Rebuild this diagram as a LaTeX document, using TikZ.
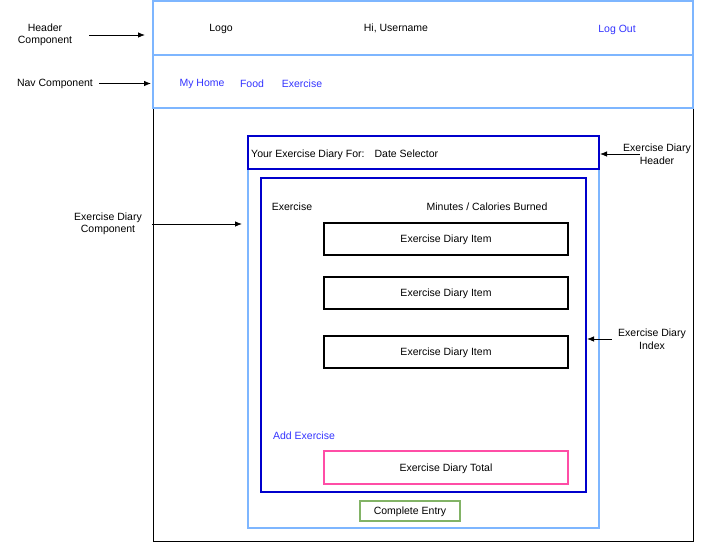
\documentclass[tikz,border=0pt]{standalone}
\usepackage{fontspec}
\setmainfont{Liberation Sans}
\usetikzlibrary{positioning, arrows.meta, calc}

\definecolor{paleblue}{RGB}{126,182,255}
\definecolor{deepblue}{RGB}{0,0,204}
\definecolor{linkblue}{RGB}{51,51,255}
\definecolor{hotpink}{RGB}{255,77,166}
\definecolor{leafgreen}{RGB}{130,179,102}

\begin{document}
\begin{tikzpicture}[
    x=1pt, y=-1pt,
    >={Latex[length=7pt, width=5.5pt]},
    font=\fontsize{10.5}{12.5}\selectfont,
    panel/.style={draw=paleblue, line width=2pt, inner sep=0pt},
    region/.style={draw=deepblue, line width=2pt, inner sep=0pt},
    itembox/.style={
        draw, line width=1.5pt, text depth=0.5pt,
        minimum width=244pt, minimum height=32pt
    },
    totalbox/.style={itembox, draw=hotpink},
    button/.style={draw=leafgreen, line width=1.5pt, minimum width=100pt, minimum height=20pt, inner sep=0pt, text depth=0.5pt},
    txt/.style={inner sep=1pt, yshift=-1.5pt},
    link/.style={txt, text=linkblue},
    note/.style={txt, align=center},
    arr/.style={->, line width=0.8pt}
]
    \useasboundingbox (0,0) rectangle (703,542);

    % page frames
    \node[draw, line width=1pt, inner sep=0pt, minimum width=540pt, minimum height=433pt] (body) at (423,324.5) {};
    \node[panel, minimum width=540pt, minimum height=54pt] (header) at (423,28) {};
    \node[panel, minimum width=540pt, minimum height=53pt] (nav) at (423,81.5) {};

    \node[txt] (logo) at (221,27) {Logo};
    \node[txt] (greet) at (396,27) {Hi, Username};
    \node[link] (logout) at (617,28) {Log Out};

    \node[link] (home) at (202,82) {My Home};
    \node[link] (food) at (252,82) {Food};
    \node[link] (exer) at (302,82) {Exercise};

    % exercise diary
    \node[panel, minimum width=351pt, minimum height=392pt] (diary) at (423.5,332) {};
    \node[region, minimum width=351pt, minimum height=33pt] (edheader) at (423.5,152.5) {};
    \node[txt, anchor=west] (title) at (250,153) {Your Exercise Diary For:\hspace{10pt}Date Selector};

    \node[region, minimum width=325pt, minimum height=314pt] (index) at (423.5,335) {};
    \node[txt] (colex) at (292,205) {Exercise};
    \node[txt] (colmin) at (487,205) {Minutes / Calories Burned};

    \node[itembox] (item1) at (446,239) {Exercise Diary Item};
    \node[itembox] (item2) at (446,293) {Exercise Diary Item};
    \node[itembox] (item3) at (446,352) {Exercise Diary Item};

    \node[link] (add) at (304,434) {Add Exercise};
    \node[totalbox, minimum height=33pt] (total) at (446,467.5) {Exercise Diary Total};
    \node[button] (complete) at (410,511) {Complete Entry};

    % notes
    \node[note] (hdrnote) at (45,33.5) {Header\\Component};
    \node[note] (navnote) at (55,82) {Nav Component};
    \node[note] (compnote) at (108,222.5) {Exercise Diary\\Component};
    \node[note] (ehnote) at (657,152.5) {Exercise Diary\\Header};
    \node[note] (idxnote) at (652,337.5) {Exercise Diary\\Index};

    \draw[arr, shorten <=16pt, shorten >=7pt] (hdrnote.east) -- (header.west |- hdrnote.east);
    \draw[arr, shorten <=5pt, shorten >=1pt] (navnote.east) -- (nav.west |- navnote.east);
    \draw[arr, shorten <=9pt, shorten >=5pt] (compnote.east) -- (diary.west |- compnote.east);
    \draw[arr] ([xshift=18pt]ehnote.west) -- (edheader.east |- ehnote.west);
    \draw[arr, shorten <=5pt] (idxnote.west) -- (index.east |- idxnote.west);
\end{tikzpicture}
\end{document}
